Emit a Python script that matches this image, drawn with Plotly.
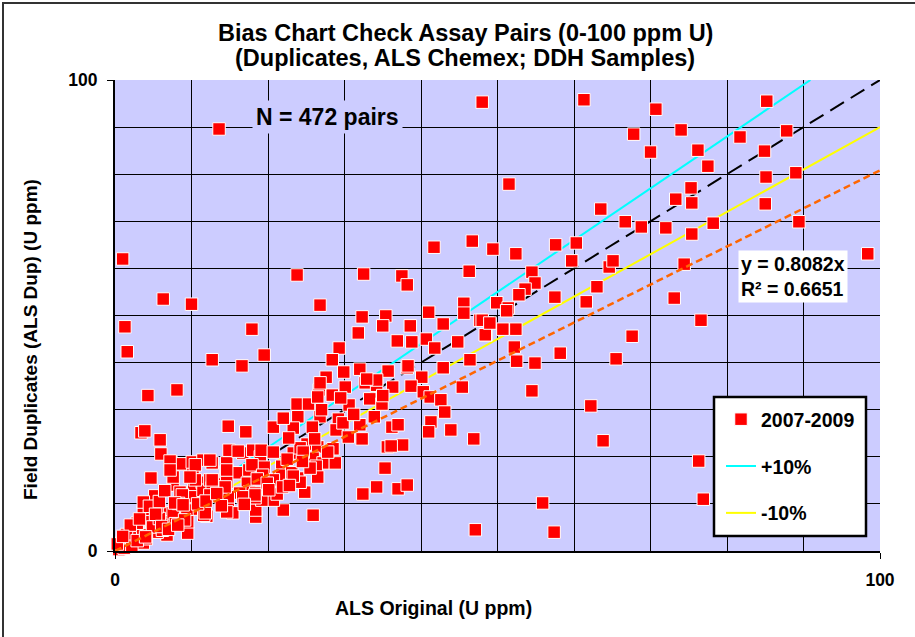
import numpy as np
import plotly.graph_objects as go

# ALS original assay (x) vs field duplicate assay (y), U ppm
als_original = [
    13.6, 48.0, 61.3, 70.7, 85.2, 67.8, 70.0, 74.0, 81.7, 87.8, 76.2, 77.5, 84.9, 85.1, 89.0,
    51.5, 75.3, 73.3, 75.4, 85.0, 63.5, 66.7, 68.8, 72.0, 78.2, 89.4, 49.4, 52.4, 57.6, 60.3,
    75.4, 59.7, 64.6, 65.1, 74.4, 98.4, 54.5, 54.9, 53.6, 52.8, 57.5, 63.0, 61.6, 73.1, 49.9,
    51.4, 1.0, 41.7, 46.7, 46.3, 6.3, 10.0, 23.8, 26.8, 32.5, 37.5, 38.2, 41.0, 45.6,
    1.3, 1.6, 17.9, 12.7, 16.6, 19.5, 4.3, 8.1, 32.3, 35.4, 35.0, 31.8, 38.6, 36.9, 38.8,
    42.9, 45.6, 47.7, 44.8, 48.5, 46.4, 29.3, 28.4, 32.0, 35.7, 38.2, 40.1, 42.9, 27.6, 30.1,
    32.7, 34.2, 36.3, 38.7, 40.3, 45.4, 26.7, 28.4, 23.8, 25.3, 30.6, 33.3, 34.9, 23.9, 26.8,
    29.2, 32.0, 28.9, 32.3, 35.6, 37.6, 36.2, 37.0, 46.9, 14.8, 17.1, 20.7, 23.3, 3.4, 3.9,
    5.9, 6.0, 7.3, 8.6, 10.2, 12.7, 14.6, 16.7, 18.0, 19.0, 19.1, 20.7, 21.8, 23.3, 25.1,
    26.5, 28.5, 25.9, 27.2, 26.3, 4.7, 5.2, 7.6, 8.5, 10.3, 11.4, 12.7, 14.0, 14.5, 16.1,
    17.5, 19.5, 10.3, 12.8, 11.5, 14.6, 17.3, 19.9, 21.6, 23.9, 17.6, 16.3, 14.8, 15.4, 18.4,
    12.0, 10.5, 6.8, 3.7, 4.8, 3.0, 1.7, 0.9, 0.4, 9.5, 6.8, 2.6, 14.8, 21.8, 23.1,
    22.0, 20.7, 25.9, 18.4, 20.7, 18.4, 19.2, 17.9, 19.3, 47.1, 32.4, 34.2, 37.0, 38.2, 35.3,
    24.8, 28.8, 26.5, 18.3, 21.2, 21.9, 24.2, 25.5, 22.5, 24.2,
    51.2, 48.4, 50.7, 52.4, 48.0, 49.0, 52.2, 52.5, 54.9, 58.2, 76.6, 67.6, 65.5, 54.5, 62.2,
    63.8, 76.3, 76.9, 55.9, 57.4,
    40.7, 41.8, 29.9, 34.2, 32.9, 38.3, 26.8, 26.5, 22.0, 25.8, 29.8, 26.1, 24.6, 23.3, 36.1,
    41.2, 42.6, 41.3, 43.1, 43.9, 41.0,
    7.2, 10.1, 11.5, 12.4, 14.9, 16.1, 8.8, 12.4, 12.7, 10.5, 3.7, 6.8, 7.6, 9.4, 9.5,
    11.6, 3.5, 2.6, 1.7, 0.9, 2.6, 3.7, 5.5, 14.6, 11.8, 12.4, 14.4, 18.6, 19.9, 16.7,
    18.3, 14.6, 12.7, 10.5, 9.8, 7.6, 7.2,
    0.5, 1.2, 0.3, 2.0, 1.5, 2.2, 4.9, 5.8, 7.9, 4.1, 5.5, 6.2, 8.3, 9.1, 2.9,
    2.0, 3.2, 4.5, 5.8, 6.5, 7.8, 8.9, 10.8, 11.9, 13.3, 5.3, 6.1, 7.0, 8.2, 2.9,
    4.0, 1.0, 13.9, 16.9, 20.1, 22.8, 24.5, 27.8, 30.5, 31.2, 33.9, 35.0, 27.0, 29.5, 22.7,
]
field_duplicate = [
    89.6, 95.3, 95.8, 93.8, 95.5, 88.5, 84.7, 89.4, 87.9, 89.2, 85.1, 81.7, 84.9, 79.4, 80.3,
    77.9, 77.1, 74.7, 73.9, 73.7, 72.6, 69.9, 68.8, 68.6, 69.6, 69.9, 64.1, 63.1, 65.0, 65.4,
    67.3, 61.6, 60.3, 61.6, 60.9, 63.1, 59.2, 56.9, 55.6, 54.4, 53.9, 56.1, 52.9, 53.7, 52.7,
    51.6, 62.0, 64.5, 65.8, 59.4, 53.5, 52.4, 58.6, 52.2, 58.8, 58.4, 56.5, 50.7, 52.6,
    47.6, 42.3, 47.1, 40.6, 39.3, 41.6, 33.0, 34.2, 49.7, 49.9, 47.8, 46.3, 47.8, 44.6, 44.4,
    48.2, 50.5, 49.0, 44.4, 45.9, 40.6, 43.1, 40.6, 38.6, 38.2, 38.9, 36.9, 38.9, 36.9, 34.8,
    35.7, 35.2, 34.8, 35.0, 33.8, 34.8, 34.2, 33.1, 31.2, 31.2, 31.0, 32.3, 31.2, 28.5, 28.5,
    28.0, 26.8, 25.7, 23.8, 22.1, 22.5, 26.3, 26.8, 23.8, 26.5, 25.3, 26.3, 26.1, 25.1, 25.5,
    23.6, 20.6, 18.9, 18.5, 17.2, 18.7, 18.7, 20.8, 21.4, 20.0, 21.4, 21.0, 18.0, 20.8, 22.7,
    22.1, 21.7, 19.7, 18.7, 18.0, 15.5, 11.7, 14.0, 12.5, 13.6, 14.6, 14.6, 15.1, 16.8, 16.6,
    17.2, 17.8, 11.5, 13.6, 12.9, 14.6, 14.4, 15.1, 15.7, 15.5, 12.5, 12.3, 10.2, 8.1, 7.2,
    7.4, 8.9, 8.1, 8.3, 6.2, 4.5, 2.3, 1.7, 0.8, 3.8, 3.4, 3.8, 11.5, 16.1, 16.6,
    8.7, 10.8, 7.6, 8.7, 15.1, 12.3, 10.8, 18.3, 16.1, 4.5, 12.1, 13.6, 13.2, 14.0, 17.6,
    12.5, 18.7, 15.7, 11.3, 12.1, 13.6, 14.6, 17.6, 19.5, 21.9,
    51.0, 45.9, 47.1, 47.1, 49.0, 48.4, 43.3, 40.3, 39.9, 42.0, 49.0, 45.6, 40.8, 34.0, 30.8,
    23.4, 19.1, 11.0, 10.2, 4.0,
    45.0, 43.1, 38.0, 36.3, 36.5, 39.3, 35.7, 32.7, 28.2, 26.3, 27.2, 23.8, 21.0, 15.9, 22.3,
    32.7, 32.1, 27.4, 29.5, 25.7, 25.3,
    19.1, 18.9, 19.3, 19.3, 21.4, 21.2, 11.9, 15.1, 13.4, 15.1, 10.4, 6.2, 8.1, 8.7, 6.2,
    7.6, 3.4, 4.0, 1.7, 1.1, 1.7, 1.7, 4.0, 8.3, 8.1, 11.9, 13.6, 15.3, 14.4, 11.5,
    11.9, 17.2, 15.1, 18.3, 15.7, 15.7, 17.2,
    0.3, 0.6, 1.5, 2.8, 3.5, 1.0, 5.1, 6.9, 5.8, 2.6, 9.4, 4.4, 10.1, 6.6, 5.9,
    5.5, 6.8, 9.5, 10.5, 12.8, 10.2, 9.8, 10.0, 10.6, 12.2, 7.8, 5.2, 4.6, 5.5, 2.2,
    3.0, 3.1, 9.6, 9.9, 13.0, 13.9, 19.0, 21.0, 24.2, 29.0, 28.5, 33.0, 30.0, 32.5, 24.0,
]

n_pairs = 472
trend_slope = 0.8082
trend_r2 = 0.6651
upper_factor = 1.10   # +10 %
lower_factor = 0.90   # -10 %
axis_max = 100

title_lines = ["Bias Chart Check Assay Pairs (0-100 ppm U)",
               "(Duplicates, ALS Chemex; DDH Samples)"]

FONT = "Liberation Sans, Arial, sans-serif"
LAVENDER = "#CCCCFF"


def ref_line(factor):
    # clip the reference line to the top of the chart
    x_end = min(axis_max, axis_max / factor)
    xs = np.array([0.0, x_end])
    return xs, xs * factor


fig = go.Figure()

xs, ys = ref_line(upper_factor)
fig.add_trace(go.Scatter(x=xs, y=ys, mode="lines", name="+10%",
                         line=dict(color="#00FFFF", width=2),
                         legendgroup="g2", legendrank=2, hoverinfo="skip"))
xs, ys = ref_line(1.0)
fig.add_trace(go.Scatter(x=xs, y=ys, mode="lines", name="1:1",
                         line=dict(color="black", width=2, dash="16px,8px"),
                         showlegend=False, hoverinfo="skip"))
xs, ys = ref_line(lower_factor)
fig.add_trace(go.Scatter(x=xs, y=ys, mode="lines", name="-10%",
                         line=dict(color="#FFFF00", width=2),
                         legendgroup="g3", legendrank=3, hoverinfo="skip"))

fig.add_trace(go.Scatter(x=als_original, y=field_duplicate, mode="markers",
                         name="2007-2009", legendgroup="g1", legendrank=1,
                         cliponaxis=False,
                         marker=dict(symbol="square", size=12.5, color="#FF0000",
                                     line=dict(color="white", width=1))))

xs, ys = ref_line(trend_slope)
fig.add_trace(go.Scatter(x=xs, y=ys, mode="lines", name="Linear fit",
                         line=dict(color="#FF6600", width=2.5, dash="7px,4px"),
                         showlegend=False, hoverinfo="skip"))

axis_common = dict(
    range=[0, axis_max], tickvals=[0, axis_max], ticks="outside", ticklen=6,
    tickcolor="black", showgrid=True, gridcolor="black", gridwidth=1,
    minor=dict(dtick=10, tick0=0, showgrid=True, gridcolor="black", gridwidth=1),
    showline=True, linecolor="black", linewidth=2, zeroline=False,
    tickfont=dict(family=FONT, size=17.5, color="black", weight="bold"),
    fixedrange=True,
)

fig.update_layout(
    width=915, height=637,
    margin=dict(l=115, r=35, t=80, b=86),
    paper_bgcolor="white", plot_bgcolor=LAVENDER,
    font=dict(family=FONT, color="black"),
    xaxis=dict(axis_common, ticklabelstandoff=6),
    yaxis=dict(axis_common, ticklabelstandoff=6),
    showlegend=True,
    legend=dict(
        x=(721 - 115) / 765, xanchor="left",
        y=(551 - 400) / 471, yanchor="top",
        bgcolor="rgba(0,0,0,0)", borderwidth=0,
        tracegroupgap=18.5, traceorder="grouped",
        font=dict(family=FONT, size=19.5, color="black", weight="bold"),
    ),
)


def px_x(p):
    return (p - 115) / 765


def px_y(p):
    return (551 - p) / 471


fig.add_shape(type="rect", xref="paper", yref="paper",
              x0=px_x(714), x1=px_x(866), y0=px_y(536), y1=px_y(397),
              fillcolor="white", line=dict(color="black", width=2.5), layer="above")

fig.add_shape(type="rect", xref="paper", yref="paper",
              x0=px_x(3), x1=px_x(925), y0=px_y(645), y1=px_y(3),
              fillcolor="rgba(0,0,0,0)", line=dict(color="#333333", width=2), layer="above")

for line_text, yc in zip(title_lines, [33, 58]):
    fig.add_annotation(text=line_text, xref="paper", yref="paper",
                       x=px_x(465), y=px_y(yc), xanchor="center", yanchor="middle",
                       showarrow=False,
                       font=dict(family=FONT, size=23.5, color="black", weight="bold"))

fig.add_annotation(text=f"N = {n_pairs} pairs", xref="paper", yref="paper",
                   x=px_x(327), y=px_y(117), xanchor="center", yanchor="middle",
                   showarrow=False, bgcolor=LAVENDER, borderpad=3,
                   font=dict(family=FONT, size=23, color="black", weight="bold"))

fig.add_annotation(text=f"y = {trend_slope:.4f}x<br>R² = {trend_r2:.4f}",
                   xref="paper", yref="paper", x=px_x(738), y=px_y(250),
                   xanchor="left", yanchor="top", align="left", showarrow=False,
                   bgcolor="white", borderpad=2,
                   font=dict(family=FONT, size=19.5, color="black", weight="bold"))

fig.add_annotation(text="Field Duplicates (ALS Dup) (U ppm)", xref="paper", yref="paper",
                   x=px_x(30), y=px_y(340), xanchor="center", yanchor="middle",
                   textangle=-90, showarrow=False,
                   font=dict(family=FONT, size=19, color="black", weight="bold"))

fig.add_annotation(text="ALS Original (U ppm)", xref="paper", yref="paper",
                   x=px_x(433), y=px_y(608), xanchor="center", yanchor="middle",
                   showarrow=False,
                   font=dict(family=FONT, size=19.5, color="black", weight="bold"))

fig.write_html("out.html")
